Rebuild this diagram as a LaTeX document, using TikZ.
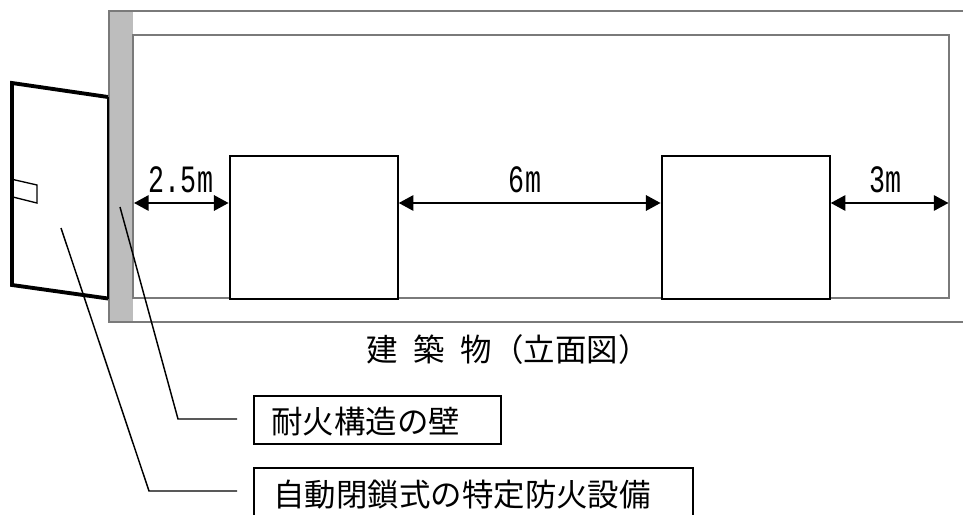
\documentclass[tikz,border=0pt]{standalone}
\usepackage{fontspec}
\setmainfont{Noto Sans CJK JP}
\newfontfamily\latin[FakeStretch=0.69]{Liberation Mono}
\usetikzlibrary{arrows.meta}
\tikzset{
  x=0.75pt,y=-0.75pt,
  bldg/.style={draw=black!52,line width=1.5pt},
  win/.style={draw=black,fill=white,line width=1.6pt,inner sep=0pt,anchor=north west,minimum width=126pt,minimum height=107.25pt},
  leader/.style={draw=black,line width=1.1pt},
  dim/.style={draw=black,line width=1.6pt,{Triangle[width=11.5pt,length=11pt]}-{Triangle[width=11.5pt,length=11pt]}},
  lab/.style={draw=black,line width=1.6pt,inner sep=0pt,anchor=north west},
  jp/.style={font=\fontsize{23.6pt}{26pt}\selectfont,inner sep=0pt},
  dimtxt/.style={font=\latin\fontsize{29pt}{32pt}\selectfont,inner sep=0pt}
}
\begin{document}
\begin{tikzpicture}
\useasboundingbox (0,0) rectangle (963,514);
\fill[white] (0,0) rectangle (963,514);
% building
\draw[bldg] (964,11) -- (109,11) -- (109,322) -- (964,322);
\fill[black!26] (109.5,11.8) rectangle (133,321.2);
\draw[bldg,line width=1.2pt] (133,35) rectangle (949,298);
% windows
\node[win] (w1) at (228.6,154.6) {};
\node[win] (w2) at (660.6,154.6) {};
\coordinate (wl) at (134,203);
\coordinate (wr) at (948.5,203);
\draw[dim] (wl) -- (w1.west |- wl);
\draw[dim] (w1.east |- wl) -- (w2.west |- wl);
\draw[dim] (w2.east |- wr) -- (wr);
\node[dimtxt] (d1) at (181,180) {2.5m};
\node[dimtxt] (d2) at (525,180) {6m};
\node[dimtxt] (d3) at (885,180) {3m};
% door
\draw[black,line width=2.9pt,line join=miter] (108,97) -- (12,83) -- (12,285) -- (108,298.5);
\draw[black,line width=1.5pt] (108,97) -- (108,298.5);
\draw[black,line width=1pt] (13,179.5) -- (37,185) -- (37,203) -- (13,197);
% caption
\node[jp,anchor=west] (cap) at (366,350) {建\hspace{0.5em}築\hspace{0.5em}物（立面図）};
% labels
\node[lab,minimum width=185.25pt,minimum height=36pt] (b1) at (253,395) {};
\node[jp,anchor=west] (t1) at (271,422) {耐火構造の壁};
\node[lab,minimum width=329.25pt,minimum height=60pt] (b2) at (253,467) {};
\node[jp,anchor=west] (t2) at (273,495) {自動閉鎖式の特定防火設備};
% leaders
\coordinate (l1a) at (120,207);
\coordinate (l1b) at (178,419);
\coordinate (l1c) at (237,419);
\coordinate (l2a) at (61,228);
\coordinate (l2b) at (149,491);
\coordinate (l2c) at (237,491);
\draw[leader] (l1a) -- (l1b) -- (l1c);
\draw[leader] (l2a) -- (l2b) -- (l2c);
\end{tikzpicture}
\end{document}
